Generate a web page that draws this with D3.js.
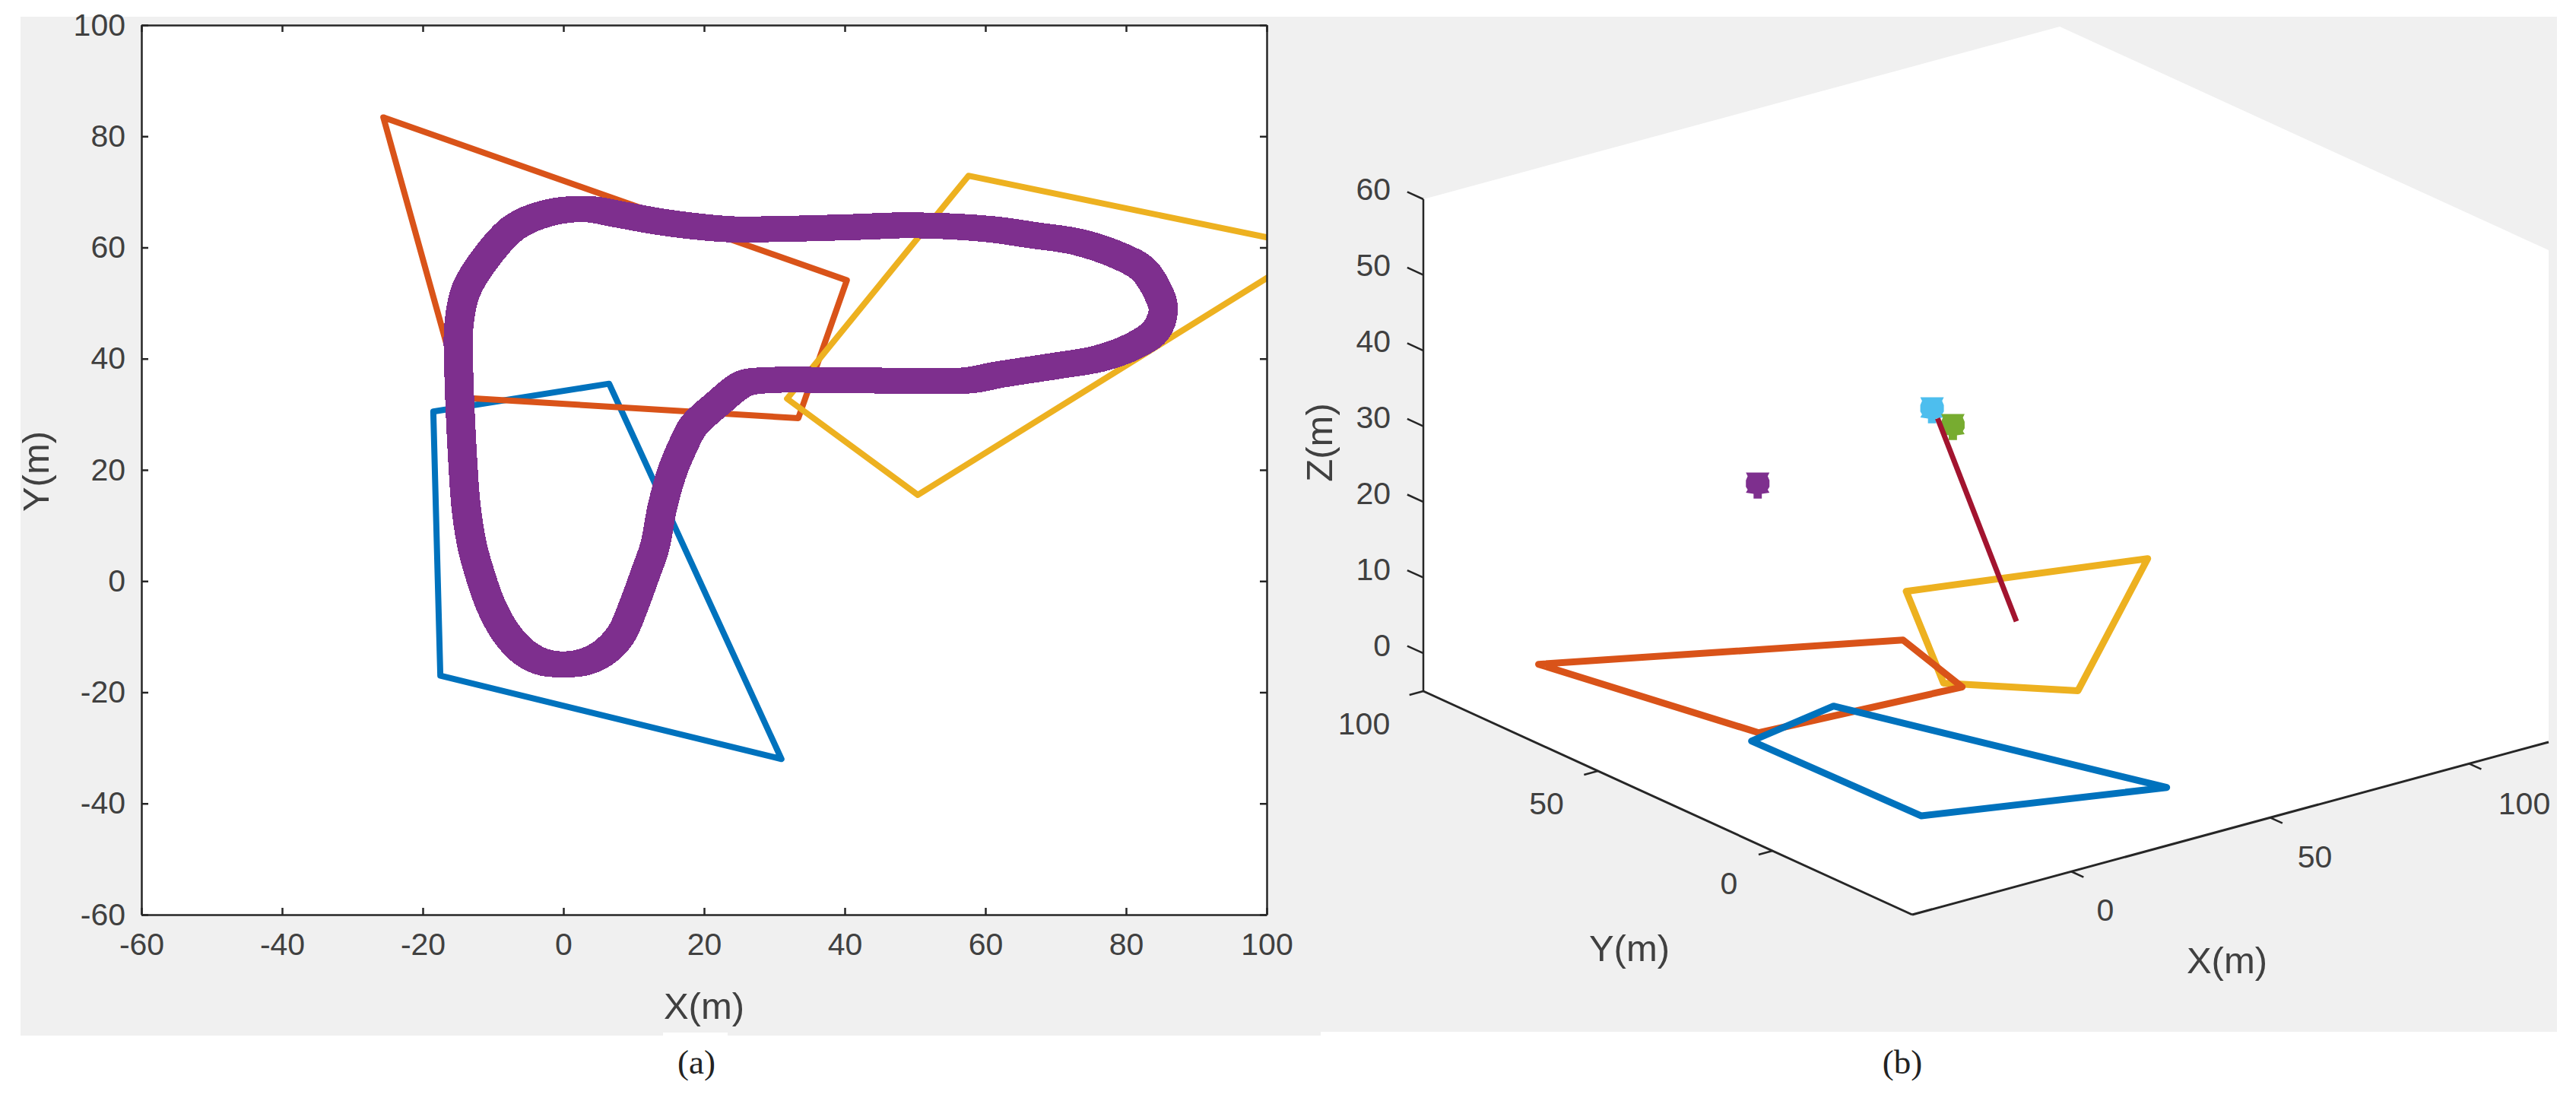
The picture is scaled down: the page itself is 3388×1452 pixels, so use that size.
<!DOCTYPE html>
<html>
<head>
<meta charset="utf-8">
<script src="https://cdnjs.cloudflare.com/ajax/libs/d3/7.8.5/d3.min.js"></script>
<style>
	html, body { margin: 0; padding: 0; background: #fff; }
	text { font-family: "Liberation Sans", Arial, sans-serif; fill: #404040; }
	.caption { font-family: "Liberation Serif", serif; fill: #222; }
	.poly { fill: none; stroke-linejoin: round; }
</style>
</head>
<body>
<svg id="chart" width="3388" height="1452"></svg>
<script>
// polygons, [x, y] in metres
var bluePoly = [[31, -32], [-17.5, -17], [-18.5, 30.5], [6.5, 35.5]];
var orangePoly = [[-25.6, 83.4], [40.3, 54.1], [33.4, 29.3], [-14.5, 33]];
var yellowPoly = [[57.6, 72.9], [107, 60], [50.4, 15.5], [31.8, 32.8]];

// uav track, centre of the thick band
var track = [[-14.9, 45.5], [-14.9, 39], [-14.3, 21.3], [-13.8, 12.9], [-13, 6.5], [-12.1, 2.2], [-10.3, -4.4],
	[-8, -9.6], [-5.4, -13], [-2.5, -14.7], [2.5, -14.7], [5.6, -13], [8.2, -9.6], [10, -4.4], [11.7, 1.5], [13, 6.2],
	[14, 12.9], [15.4, 19.4], [17.1, 24.6], [18.5, 27.9], [21.9, 31.9], [25.6, 35.5], [28.4, 36.1], [42, 36.1],
	[57.5, 36.1], [61.8, 37.1], [70, 38.7], [76.1, 40], [81.1, 42.3], [84.2, 45], [85.3, 48.8], [84.5, 52.1],
	[82.4, 56.1], [79.2, 58.4], [73.1, 61], [66.8, 62.2], [60.6, 63.3], [49.4, 64], [42, 63.7], [29.6, 63.3],
	[23.4, 63.3], [14.4, 64.5], [8.1, 65.9], [3.4, 66.9], [-2.2, 66.2], [-7, 63.6], [-11.1, 58], [-13.9, 52.1]];

// 3d items of panel (b), [x, y, z]
var markers3d = [
	{p: [-7.3, 41.5, 30], c: "#7E2F8E"},
	{p: [46.2, 52.5, 30], c: "#4DBEEE"},
	{p: [43.7, 43.7, 30], c: "#77AC30"}
];
var link3d = [[43.9, 48.3, 30], [64.6, 49.3, 0]];

var ticks2d = [-60, -40, -20, 0, 20, 40, 60, 80, 100];
var xyTicks3d = [0, 50, 100];
var zTicks3d = [0, 10, 20, 30, 40, 50, 60];

var blue = "#0072BD", orange = "#D95319", yellow = "#EDB120", purple = "#7E2F8E", maroon = "#A2142F";
var axisCol = "#262626";

var svg = d3.select("#chart");

// grey figure backgrounds
svg.append("rect").attr("x", 27).attr("y", 22).attr("width", 1710).attr("height", 1340).attr("fill", "#f0f0f0");
svg.append("rect").attr("x", 1737).attr("y", 22).attr("width", 1626).attr("height", 1335).attr("fill", "#f0f0f0");
svg.append("rect").attr("x", 872).attr("y", 1358).attr("width", 85).attr("height", 4).attr("fill", "#fff");

// ---- panel (a)
var xA = d3.scaleLinear().domain([-60, 100]).range([186, 1666]);
var yA = d3.scaleLinear().domain([-60, 100]).range([1203, 33]);

svg.append("rect").attr("x", 186).attr("y", 33).attr("width", 1480).attr("height", 1170).attr("fill", "#fff");
svg.append("clipPath").attr("id", "clipA").append("rect")
	.attr("x", 186).attr("y", 33).attr("width", 1480).attr("height", 1170);

var lineAClosed = d3.line().x(function(d) { return xA(d[0]); }).y(function(d) { return yA(d[1]); }).curve(d3.curveLinearClosed);
var trackLine = d3.line().x(function(d) { return xA(d[0]); }).y(function(d) { return yA(d[1]); }).curve(d3.curveCatmullRomClosed);

var gA = svg.append("g").attr("clip-path", "url(#clipA)");
[[bluePoly, blue], [orangePoly, orange], [yellowPoly, yellow]].forEach(function(s) {
	gA.append("path").attr("class", "poly").attr("d", lineAClosed(s[0]))
		.attr("stroke", s[1]).attr("stroke-width", 8);
});
// the original band is stamped with a boxy marker, so use a boxy pen: thin stroke at the four corners
[[-5, -3], [5, -3], [-5, 3], [5, 3], [0, 0]].forEach(function(o) {
	gA.append("path").attr("class", "poly").attr("d", trackLine(track))
		.attr("transform", "translate(" + o[0] + "," + o[1] + ")")
		.attr("stroke", purple).attr("stroke-width", 28).attr("shape-rendering", "crispEdges");
});

function styleAxis(g) {
	g.selectAll("path").attr("stroke", axisCol).attr("stroke-width", 2.5);
	g.selectAll("line").attr("stroke", axisCol).attr("stroke-width", 2.5);
}
function plainTick(d) { return String(d); }

var axBottom = svg.append("g").attr("transform", "translate(0,1203)")
	.call(d3.axisBottom(xA).tickValues(ticks2d).tickSizeInner(-9).tickSizeOuter(0).tickPadding(24).tickFormat(plainTick));
var axLeft = svg.append("g").attr("transform", "translate(186,0)")
	.call(d3.axisLeft(yA).tickValues(ticks2d).tickSizeInner(-9).tickSizeOuter(0).tickPadding(21).tickFormat(plainTick));
var axTop = svg.append("g").attr("transform", "translate(0,33)")
	.call(d3.axisTop(xA).tickValues(ticks2d).tickSizeInner(-9).tickSizeOuter(0).tickFormat(""));
var axRight = svg.append("g").attr("transform", "translate(1666,0)")
	.call(d3.axisRight(yA).tickValues(ticks2d).tickSizeInner(-9).tickSizeOuter(0).tickFormat(""));
[axBottom, axLeft, axTop, axRight].forEach(styleAxis);
svg.selectAll("g text").style("font-size", "41px").style("fill", "#404040");

svg.append("text").attr("x", 926).attr("y", 1340).attr("text-anchor", "middle").style("font-size", "49px").text("X(m)");
svg.append("text").attr("transform", "translate(64,620) rotate(-90)").attr("text-anchor", "middle").style("font-size", "49px").text("Y(m)");
svg.append("text").attr("class", "caption").attr("x", 916).attr("y", 1412).attr("text-anchor", "middle").style("font-size", "45px").text("(a)");

// ---- panel (b), plain oblique projection built from three linear scales
var px3X = d3.scaleLinear().domain([-40, 120]).range([0, 837]);
var py3X = d3.scaleLinear().domain([-40, 120]).range([0, -227]);
var px3Y = d3.scaleLinear().domain([-40, 100]).range([0, -643]);
var py3Y = d3.scaleLinear().domain([-40, 100]).range([0, -294]);
var py3Z = d3.scaleLinear().domain([-5, 60]).range([0, -647]);

function proj(x, y, z) {
	return [2515 + px3X(x) + px3Y(y), 1203 + py3X(x) + py3Y(y) + py3Z(z)];
}
var line3 = d3.line().x(function(d) { return proj(d[0], d[1], d[2] || 0)[0]; }).y(function(d) { return proj(d[0], d[1], d[2] || 0)[1]; });
var line3Closed = d3.line().x(function(d) { return proj(d[0], d[1], 0)[0]; }).y(function(d) { return proj(d[0], d[1], 0)[1]; }).curve(d3.curveLinearClosed);

// white box outline
var boxCorners = [[-40, -40, -5], [120, -40, -5], [120, -40, 60], [120, 100, 60], [-40, 100, 60], [-40, 100, -5]];
svg.append("path").attr("d", line3(boxCorners) + "Z").attr("fill", "#fff");

// axis lines
function seg(a, b, w) {
	svg.append("path").attr("d", line3([a, b])).attr("stroke", axisCol).attr("stroke-width", w || 2.5).attr("fill", "none");
}
seg([-40, -40, -5], [120, -40, -5], 3);
seg([-40, -40, -5], [-40, 100, -5], 3);
seg([-40, 100, -5], [-40, 100, 60]);

xyTicks3d.forEach(function(v) {
	seg([v, -40, -5], [v, -43.5, -5]);
	seg([-40, v, -5], [-43.5, v, -5]);
});
zTicks3d.forEach(function(v) {
	seg([-40, 100, v], [-40, 104.6, v]);
});

// tick labels sit off the axes a bit unevenly, so they get their own scales
var xLabX = d3.scaleLinear().domain([0, 100]).range([2769, 3320]);
var xLabY = d3.scaleLinear().domain([0, 100]).range([1196, 1056]);
var yLabX = d3.scaleLinear().domain([0, 100]).range([2274, 1794]);
var yLabY = d3.scaleLinear().domain([0, 100]).range([1161, 951]);
var zLabY = d3.scaleLinear().domain([0, 60]).range([848, 248]);

xyTicks3d.forEach(function(v) {
	svg.append("text").attr("x", xLabX(v)).attr("y", xLabY(v)).attr("dy", "0.36em").attr("text-anchor", "middle").style("font-size", "41px").text(v);
	svg.append("text").attr("x", yLabX(v)).attr("y", yLabY(v)).attr("dy", "0.36em").attr("text-anchor", "middle").style("font-size", "41px").text(v);
});
zTicks3d.forEach(function(v) {
	svg.append("text").attr("x", 1829).attr("y", zLabY(v)).attr("dy", "0.36em").attr("text-anchor", "end").style("font-size", "41px").text(v);
});

[[yellowPoly, yellow], [orangePoly, orange], [bluePoly, blue]].forEach(function(s) {
	svg.append("path").attr("class", "poly").attr("d", line3Closed(s[0]))
		.attr("stroke", s[1]).attr("stroke-width", 9);
});

// blocky marker with a small nub below
var nubSymbol = {
	draw: function(ctx, size) {
		var r = Math.sqrt(size) / 2;
		ctx.moveTo(-r, -r);
		ctx.lineTo(r, -r);
		ctx.lineTo(r * 0.85, -r * 0.7);
		ctx.lineTo(r, -r * 0.35);
		ctx.lineTo(r, r * 0.2);
		ctx.lineTo(r * 0.85, r * 0.45);
		ctx.lineTo(r, r * 0.7);
		ctx.lineTo(r * 0.35, r * 0.8);
		ctx.lineTo(r * 0.35, r * 1.2);
		ctx.lineTo(-r * 0.35, r * 1.2);
		ctx.lineTo(-r * 0.35, r * 0.8);
		ctx.lineTo(-r, r * 0.7);
		ctx.lineTo(-r * 0.85, r * 0.45);
		ctx.lineTo(-r, r * 0.2);
		ctx.lineTo(-r, -r * 0.35);
		ctx.lineTo(-r * 0.85, -r * 0.7);
		ctx.closePath();
	}
};
markers3d.forEach(function(m) {
	var q = proj(m.p[0], m.p[1], m.p[2]);
	svg.append("path").attr("d", d3.symbol().type(nubSymbol).size(961)())
		.attr("transform", "translate(" + q[0] + "," + q[1] + ")").attr("fill", m.c);
});
svg.append("path").attr("d", line3(link3d)).attr("stroke", maroon).attr("stroke-width", 7).attr("fill", "none");

svg.append("text").attr("x", 2143).attr("y", 1264).attr("text-anchor", "middle").style("font-size", "49px").text("Y(m)");
svg.append("text").attr("x", 2929).attr("y", 1280).attr("text-anchor", "middle").style("font-size", "49px").text("X(m)");
svg.append("text").attr("transform", "translate(1752,582) rotate(-90)").attr("text-anchor", "middle").style("font-size", "49px").text("Z(m)");
svg.append("text").attr("class", "caption").attr("x", 2502).attr("y", 1412).attr("text-anchor", "middle").style("font-size", "45px").text("(b)");
</script>
</body>
</html>
